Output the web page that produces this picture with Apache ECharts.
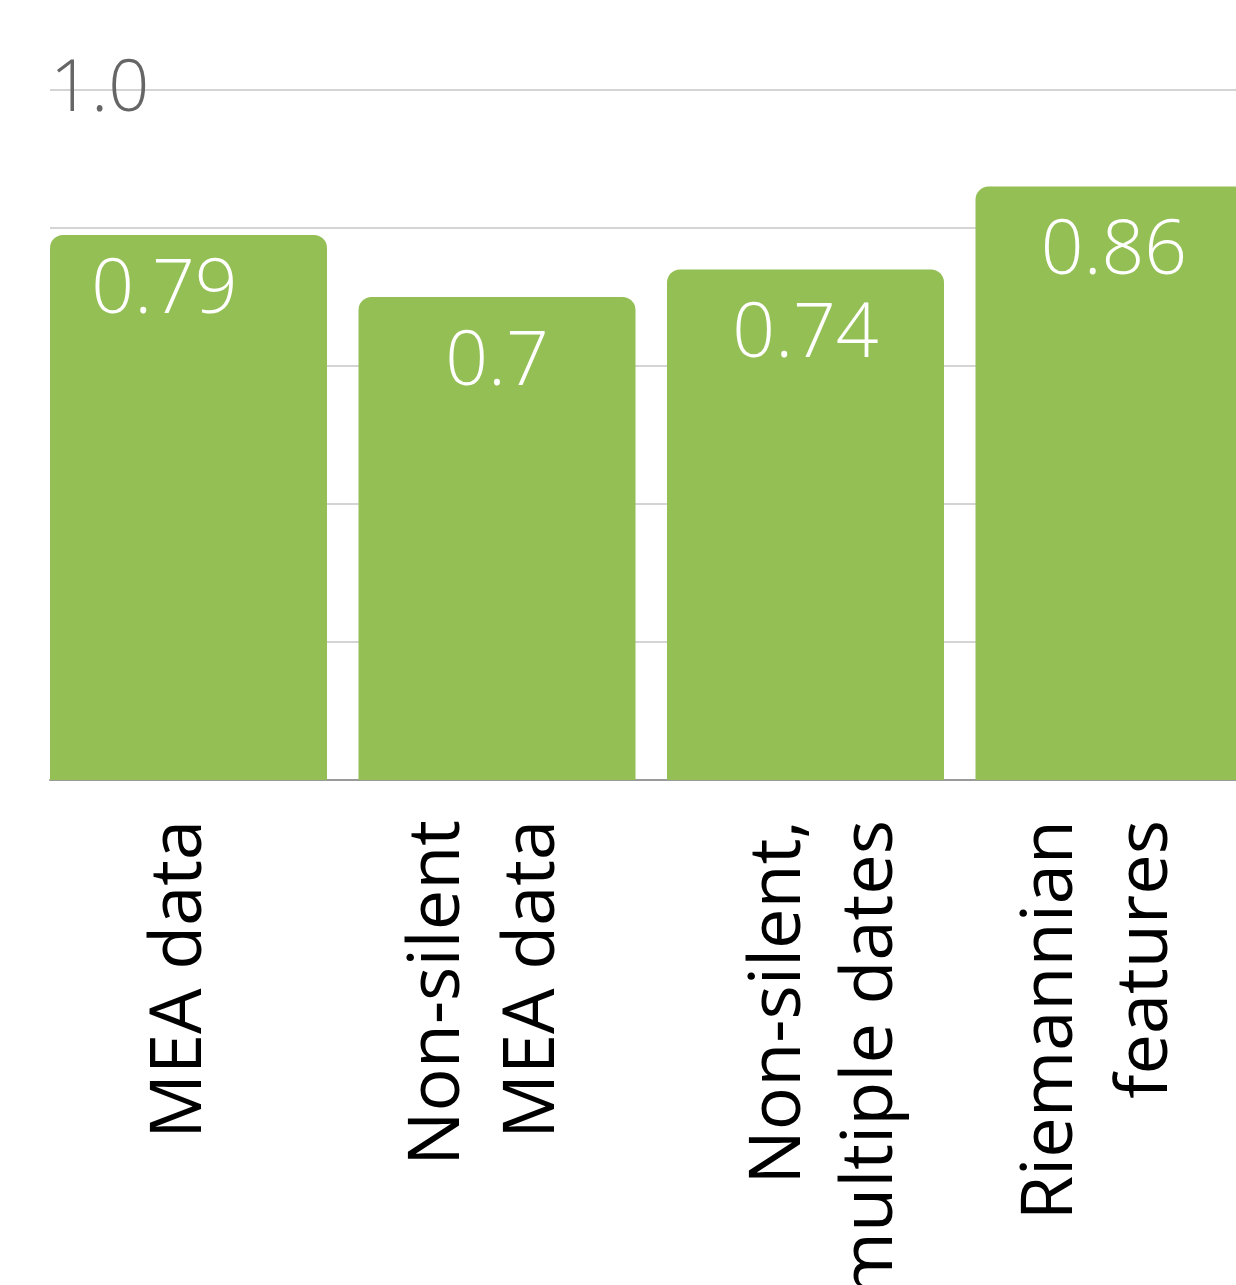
<!DOCTYPE html>
<html>
<head>
<meta charset="utf-8">
<script src="https://cdn.jsdelivr.net/npm/echarts@6/dist/echarts.min.js"></script>
<style>
html,body{margin:0;padding:0;background:#fff;}
#chart{width:1236px;height:1285px;}
</style>
</head>
<body>
<div id="chart"></div>
<script>
const categories = ['MEA data', 'Non-silent\nMEA data', 'Non-silent,\nmultiple dates', 'Riemannian\nfeatures'];
const values = [0.79, 0.7, 0.74, 0.86];
const yTicks = { min: 0, max: 1.0, interval: 0.2 };

// per-category line heights for the rotated labels (style only)
const labelLineHeights = [[94, 16], [72, 118], [132, 52], [64, 126]];

const labelFont = { fontSize: 72, fontFamily: 'Open Sans, Noto Sans, sans-serif', color: '#000' };
const rich = {};
labelLineHeights.forEach((lh, i) => {
  lh.forEach((h, j) => { rich['r' + i + '_' + j] = Object.assign({ lineHeight: h }, labelFont); });
});
rich.sp = { fontSize: 2, lineHeight: 16, color: '#000' };

const chart = echarts.init(document.getElementById('chart'));
const option = {
  backgroundColor: '#ffffff',
  animation: false,
  grid: [
    { left: 50, right: 0, top: 90, bottom: 505, outerBoundsMode: 'none' },
    { left: 34.25, width: 1234, top: 90, bottom: 505, outerBoundsMode: 'none' }
  ],
  xAxis: [
    { gridIndex: 0, type: 'value', min: 0, max: 1, show: true,
      axisLine: { show: true, lineStyle: { color: '#9a9a9a', width: 2 } },
      axisTick: { show: false }, axisLabel: { show: false }, splitLine: { show: false } },
    { gridIndex: 1, type: 'category', data: categories,
      axisLine: { show: false }, axisTick: { show: false },
      axisLabel: Object.assign({ rotate: 90, margin: 40, interval: 0, lineHeight: 94, rich: rich,
        formatter: (v, idx) => {
          const lines = v.split('\n');
          if (lines.length === 1) return '{r' + idx + '_0|' + lines[0] + '}\n{sp| }';
          return lines.map((l, j) => '{r' + idx + '_' + j + '|' + l + '}').join('\n');
        } }, labelFont) }
  ],
  yAxis: [
    { gridIndex: 0, type: 'value', min: yTicks.min, max: yTicks.max, interval: yTicks.interval,
      axisLine: { show: false }, axisTick: { show: false },
      splitLine: { show: true, lineStyle: { color: '#d4d4d4', width: 2 } },
      axisLabel: { inside: true, margin: 0, showMinLabel: false, color: '#666', fontSize: 72,
        fontWeight: 300,
        fontFamily: 'Open Sans, Noto Sans, sans-serif', verticalAlign: 'middle',
        formatter: v => (v === yTicks.max ? v.toFixed(1) : '') } },
    { gridIndex: 1, type: 'value', min: yTicks.min, max: yTicks.max, interval: yTicks.interval, show: false,
      splitLine: { show: false } }
  ],
  series: [{
    type: 'bar',
    xAxisIndex: 1, yAxisIndex: 1,
    barWidth: 277,
    data: values.map((v, i) => i === 0 ? { value: v, label: { offset: [-24, -10] } } : v),
    itemStyle: { color: '#94bf55', borderRadius: [13, 13, 0, 0] },
    label: { show: true, position: 'insideTop', distance: 29, color: '#fff', fontSize: 75,
      fontWeight: 300,
      fontFamily: 'Open Sans, Noto Sans, sans-serif', formatter: p => String(p.value) }
  }]
};
chart.setOption(option);
</script>
</body>
</html>
